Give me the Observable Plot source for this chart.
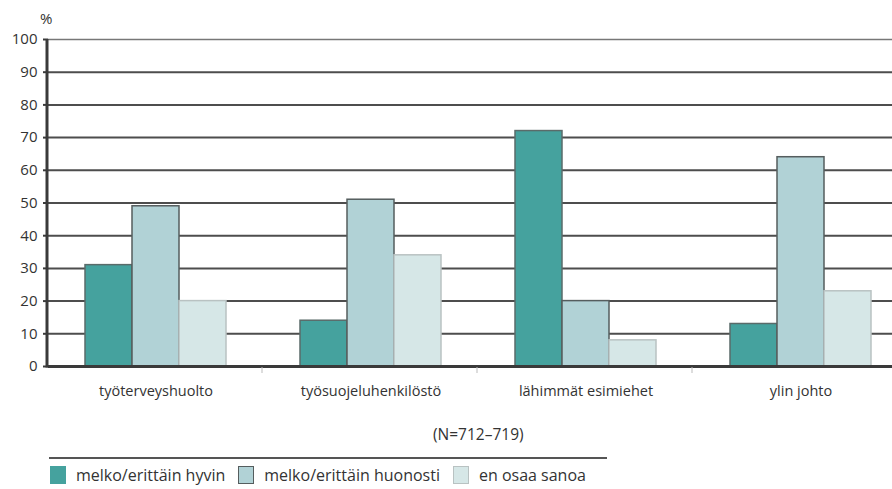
<!DOCTYPE html>
<html>
<head>
<meta charset="utf-8">
<script src="https://cdn.jsdelivr.net/npm/d3@7"></script>
<script src="https://cdn.jsdelivr.net/npm/@observablehq/plot@0.6"></script>
<style>
  html, body { margin: 0; padding: 0; background: #fff; overflow: hidden; }
  #wrap { position: relative; width: 892px; height: 489px; font-family: "Open Sans", sans-serif; color: #333; }
  #chart { position: absolute; left: 0; top: 0; }
  #unit { position: absolute; left: 40px; top: 8px; font-size: 15px; }
  #note { position: absolute; left: 433px; top: 423px; font-size: 15.5px; }
  #rule { position: absolute; left: 49px; top: 457px; width: 558px; height: 2px; background: #555; }
  #legend { position: absolute; left: 50px; top: 465px; display: flex; align-items: center; font-size: 16px; line-height: 20px; white-space: nowrap; }
  #legend .item { display: flex; align-items: center; margin-right: 13px; }
  #legend .sw { width: 16px; height: 18px; margin-right: 10px; box-sizing: border-box; }
</style>
</head>
<body>
<div id="wrap">
  <div id="unit">%</div>
  <div id="chart"></div>
  <div id="note"></div>
  <div id="rule"></div>
  <div id="legend"></div>
</div>
<script>
// Luottamus eri tahoihin työterveysasioissa (%)
const categories = ["työterveyshuolto", "työsuojeluhenkilöstö", "lähimmät esimiehet", "ylin johto"];
const series = ["melko/erittäin hyvin", "melko/erittäin huonosti", "en osaa sanoa"];
const hyvin = [31, 14, 72, 13];
const huonosti = [49, 51, 20, 64];
const eiOsaa = [20, 34, 8, 23];
const yTicks = [0, 10, 20, 30, 40, 50, 60, 70, 80, 90, 100];
const note = "(N=712–719)";

const colors = ["#45a29e", "#b1d2d6", "#d6e7e7"];
const strokes = ["#5a6b6a", "#555d5e", "#b9c2c2"];

const values = [hyvin, huonosti, eiOsaa];
const rows = [];
categories.forEach((c, i) => {
  series.forEach((s, j) => rows.push({category: c, series: s, value: values[j][i]}));
});

const chart = Plot.plot({
  width: 892,
  height: 420,
  marginTop: 39,
  marginBottom: 54,
  marginLeft: 47,
  marginRight: -16,
  style: {fontFamily: "'Open Sans', sans-serif", fontSize: "14px", color: "#333", background: "transparent"},
  fx: {domain: categories, padding: 0, label: null},
  x: {domain: series, paddingInner: 0, paddingOuter: 0.75, axis: null},
  y: {domain: [0, 100], label: null},
  color: {domain: series, range: colors},
  marks: [
    Plot.ruleY(yTicks.filter(d => d > 0 && d < 100), {stroke: "#4d4d4d", strokeWidth: 2}),
    Plot.ruleY([100], {stroke: "#777", strokeWidth: 1.5}),
    Plot.barY(rows, {
      fx: "category",
      x: "series",
      y: "value",
      fill: "series",
      stroke: d => strokes[series.indexOf(d.series)],
      strokeWidth: 1.5
    }),
    Plot.ruleY([0], {stroke: "#3a3a3a", strokeWidth: 3}),
    Plot.axisY({
      ticks: yTicks,
      tickSize: 5,
      tickPadding: 6,
      stroke: "#3a3a3a",
      strokeWidth: 2,
      fill: "#333",
      fontSize: 15,
      label: null
    }),
    Plot.axisFx({anchor: "bottom", tickSize: 0, tickPadding: 19, label: null, fill: "#333", fontSize: 14.5})
  ]
});
document.getElementById("chart").appendChild(chart);

const svg = d3.select(chart);
const fx = chart.scale("fx");
const yScale = chart.scale("y");
const y0 = yScale.apply(0);
const yTop = yScale.apply(100);

// vertical axis line along the left edge of the plot area
svg.append("line")
  .attr("x1", fx.range[0]).attr("x2", fx.range[0])
  .attr("y1", yTop).attr("y2", y0 + 1.5)
  .attr("stroke", "#3a3a3a").attr("stroke-width", 3);

// small separators between the category groups below the baseline
for (let i = 1; i < categories.length; i++) {
  const xb = fx.range[0] + i * fx.step;
  svg.append("line")
    .attr("x1", xb).attr("x2", xb)
    .attr("y1", y0 + 1).attr("y2", y0 + 7)
    .attr("stroke", "#bbb").attr("stroke-width", 1);
}

document.getElementById("note").textContent = note;

const legend = document.getElementById("legend");
series.forEach((s, j) => {
  const item = document.createElement("div");
  item.className = "item";
  const sw = document.createElement("span");
  sw.className = "sw";
  sw.style.background = colors[j];
  sw.style.border = j === 0 ? "none" : `1px solid ${strokes[j]}`;
  const label = document.createElement("span");
  label.textContent = s;
  item.appendChild(sw);
  item.appendChild(label);
  legend.appendChild(item);
});
</script>
</body>
</html>
